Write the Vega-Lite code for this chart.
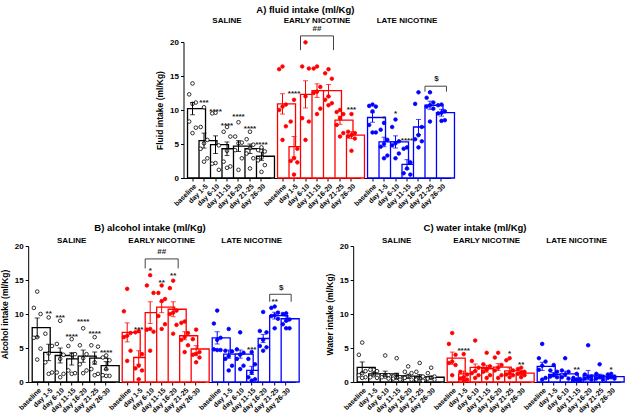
{
"$schema": "https://vega.github.io/schema/vega-lite/v6.json",
"padding": {"left": 0, "right": 2, "top": 4, "bottom": 0},
"config": {
 "font": "Liberation Sans",
 "view": {"stroke": null},
 "axis": {"domainColor": "#000000", "tickColor": "#000000", "labelColor": "#000000", "titleColor": "#000000", "grid": false, "labelFontWeight": "bold", "titleFontWeight": "bold", "domainWidth": 1, "tickSize": 3},
 "axisX": {"labelAngle": -45, "labelFontSize": 7, "labelPadding": 1},
 "axisY": {"labelFontSize": 8, "titleFontSize": 8.5, "values": [0, 4, 8, 12, 16, 20], "titlePadding": 5, "labelPadding": 2},
 "header": {"labelFontWeight": "bold", "labelFontSize": 8, "labelPadding": 1, "labelColor": "#000000"},
 "title": {"fontSize": 9.5, "fontWeight": "bold", "offset": 5, "color": "#000000", "anchor": "middle"}
},
"datasets": {
"fluid": [
{"g":"SALINE","d":"baseline","m":10.2,"s":0.9},
{"g":"SALINE","d":"day 1-5","m":5.5,"s":1.1,"st":"***","sy":11.3},
{"g":"SALINE","d":"day 6-10","m":4.9,"s":1.3,"st":"****","sy":10.0},
{"g":"SALINE","d":"day 11-15","m":4.3,"s":1.0,"st":"****","sy":8.0},
{"g":"SALINE","d":"day 16-20","m":4.7,"s":0.8,"st":"****","sy":9.2},
{"g":"SALINE","d":"day 21-25","m":4.3,"s":0.7,"st":"****","sy":7.5},
{"g":"SALINE","d":"day 26-30","m":3.2,"s":0.6,"st":"****","sy":5.1},
{"g":"EARLY NICOTINE","d":"baseline","m":10.9,"s":1.5},
{"g":"EARLY NICOTINE","d":"day 1-5","m":4.6,"s":1.5,"st":"****","sy":12.7},
{"g":"EARLY NICOTINE","d":"day 6-10","m":12.3,"s":2.0},
{"g":"EARLY NICOTINE","d":"day 11-15","m":12.85,"s":1.0},
{"g":"EARLY NICOTINE","d":"day 16-20","m":12.85,"s":0.9},
{"g":"EARLY NICOTINE","d":"day 21-25","m":8.5,"s":0.6},
{"g":"EARLY NICOTINE","d":"day 26-30","m":6.3,"s":0.5,"st":"***","sy":10.3},
{"g":"LATE NICOTINE","d":"baseline","m":8.9,"s":0.7},
{"g":"LATE NICOTINE","d":"day 1-5","m":5.3,"s":0.7,"st":"*","sy":9.0},
{"g":"LATE NICOTINE","d":"day 6-10","m":5.3,"s":0.9,"st":"*","sy":9.75},
{"g":"LATE NICOTINE","d":"day 11-15","m":2.0,"s":0.7,"st":"****","sy":5.8},
{"g":"LATE NICOTINE","d":"day 16-20","m":7.5,"s":1.1},
{"g":"LATE NICOTINE","d":"day 21-25","m":10.7,"s":0.6},
{"g":"LATE NICOTINE","d":"day 26-30","m":9.6,"s":0.5},
{"g":"EARLY NICOTINE","d1":"day 6-10","d2":"day 16-20","mid":"day 11-15","by":20.9,"bo":18.8,"lab":"##","ly":21.3},
{"g":"LATE NICOTINE","d1":"day 21-25","d2":"day 26-30","mid":"day 26-30","by":13.5,"bo":12.7,"lab":"$","ly":13.9},
{"g":"SALINE","d":"baseline","v":13.9},{"g":"SALINE","d":"baseline","v":12.3},{"g":"SALINE","d":"baseline","v":11.1},{"g":"SALINE","d":"baseline","v":10.9},{"g":"SALINE","d":"baseline","v":8.3},{"g":"SALINE","d":"baseline","v":7.4},{"g":"SALINE","d":"baseline","v":6.6},
{"g":"SALINE","d":"day 1-5","v":10.4},{"g":"SALINE","d":"day 1-5","v":7.5},{"g":"SALINE","d":"day 1-5","v":5.6},{"g":"SALINE","d":"day 1-5","v":5.1},{"g":"SALINE","d":"day 1-5","v":4.3},{"g":"SALINE","d":"day 1-5","v":2.9},{"g":"SALINE","d":"day 1-5","v":2.4},
{"g":"SALINE","d":"day 6-10","v":9.6},{"g":"SALINE","d":"day 6-10","v":9.5},{"g":"SALINE","d":"day 6-10","v":4.8},{"g":"SALINE","d":"day 6-10","v":2.2},{"g":"SALINE","d":"day 6-10","v":2.1},{"g":"SALINE","d":"day 6-10","v":1.2},
{"g":"SALINE","d":"day 11-15","v":7.5},{"g":"SALINE","d":"day 11-15","v":6.8},{"g":"SALINE","d":"day 11-15","v":6.1},{"g":"SALINE","d":"day 11-15","v":4.0},{"g":"SALINE","d":"day 11-15","v":2.4},{"g":"SALINE","d":"day 11-15","v":1.7},{"g":"SALINE","d":"day 11-15","v":1.5},
{"g":"SALINE","d":"day 16-20","v":8.2},{"g":"SALINE","d":"day 16-20","v":6.1},{"g":"SALINE","d":"day 16-20","v":5.2},{"g":"SALINE","d":"day 16-20","v":5.1},{"g":"SALINE","d":"day 16-20","v":4.1},{"g":"SALINE","d":"day 16-20","v":2.9},{"g":"SALINE","d":"day 16-20","v":1.2},
{"g":"SALINE","d":"day 21-25","v":6.8},{"g":"SALINE","d":"day 21-25","v":5.7},{"g":"SALINE","d":"day 21-25","v":4.9},{"g":"SALINE","d":"day 21-25","v":4.4},{"g":"SALINE","d":"day 21-25","v":3.6},{"g":"SALINE","d":"day 21-25","v":2.9},{"g":"SALINE","d":"day 21-25","v":1.4},
{"g":"SALINE","d":"day 26-30","v":4.5},{"g":"SALINE","d":"day 26-30","v":4.1},{"g":"SALINE","d":"day 26-30","v":3.9},{"g":"SALINE","d":"day 26-30","v":3.0},{"g":"SALINE","d":"day 26-30","v":2.6},{"g":"SALINE","d":"day 26-30","v":1.9},{"g":"SALINE","d":"day 26-30","v":0.9},
{"g":"EARLY NICOTINE","d":"baseline","v":16.4},{"g":"EARLY NICOTINE","d":"baseline","v":16.0},{"g":"EARLY NICOTINE","d":"baseline","v":10.8},{"g":"EARLY NICOTINE","d":"baseline","v":10.5},{"g":"EARLY NICOTINE","d":"baseline","v":10.0},{"g":"EARLY NICOTINE","d":"baseline","v":7.6},{"g":"EARLY NICOTINE","d":"baseline","v":5.6},
{"g":"EARLY NICOTINE","d":"day 1-5","v":11.5},{"g":"EARLY NICOTINE","d":"day 1-5","v":8.3},{"g":"EARLY NICOTINE","d":"day 1-5","v":4.3},{"g":"EARLY NICOTINE","d":"day 1-5","v":2.9},{"g":"EARLY NICOTINE","d":"day 1-5","v":2.5},{"g":"EARLY NICOTINE","d":"day 1-5","v":2.3},{"g":"EARLY NICOTINE","d":"day 1-5","v":0.5},
{"g":"EARLY NICOTINE","d":"day 6-10","v":19.95},{"g":"EARLY NICOTINE","d":"day 6-10","v":16.4},{"g":"EARLY NICOTINE","d":"day 6-10","v":16.1},{"g":"EARLY NICOTINE","d":"day 6-10","v":12.0},{"g":"EARLY NICOTINE","d":"day 6-10","v":8.8},{"g":"EARLY NICOTINE","d":"day 6-10","v":8.3},{"g":"EARLY NICOTINE","d":"day 6-10","v":5.6},
{"g":"EARLY NICOTINE","d":"day 11-15","v":16.4},{"g":"EARLY NICOTINE","d":"day 11-15","v":16.1},{"g":"EARLY NICOTINE","d":"day 11-15","v":13.4},{"g":"EARLY NICOTINE","d":"day 11-15","v":12.7},{"g":"EARLY NICOTINE","d":"day 11-15","v":12.5},{"g":"EARLY NICOTINE","d":"day 11-15","v":10.2},{"g":"EARLY NICOTINE","d":"day 11-15","v":9.4},
{"g":"EARLY NICOTINE","d":"day 16-20","v":16.0},{"g":"EARLY NICOTINE","d":"day 16-20","v":15.4},{"g":"EARLY NICOTINE","d":"day 16-20","v":14.6},{"g":"EARLY NICOTINE","d":"day 16-20","v":12.0},{"g":"EARLY NICOTINE","d":"day 16-20","v":11.5},{"g":"EARLY NICOTINE","d":"day 16-20","v":11.0},{"g":"EARLY NICOTINE","d":"day 16-20","v":10.7},
{"g":"EARLY NICOTINE","d":"day 21-25","v":10.0},{"g":"EARLY NICOTINE","d":"day 21-25","v":9.7},{"g":"EARLY NICOTINE","d":"day 21-25","v":9.4},{"g":"EARLY NICOTINE","d":"day 21-25","v":8.8},{"g":"EARLY NICOTINE","d":"day 21-25","v":7.8},{"g":"EARLY NICOTINE","d":"day 21-25","v":6.6},{"g":"EARLY NICOTINE","d":"day 21-25","v":6.1},
{"g":"EARLY NICOTINE","d":"day 26-30","v":9.4},{"g":"EARLY NICOTINE","d":"day 26-30","v":6.8},{"g":"EARLY NICOTINE","d":"day 26-30","v":6.6},{"g":"EARLY NICOTINE","d":"day 26-30","v":6.3},{"g":"EARLY NICOTINE","d":"day 26-30","v":6.1},{"g":"EARLY NICOTINE","d":"day 26-30","v":5.8},{"g":"EARLY NICOTINE","d":"day 26-30","v":4.0},
{"g":"LATE NICOTINE","d":"baseline","v":10.8},{"g":"LATE NICOTINE","d":"baseline","v":10.6},{"g":"LATE NICOTINE","d":"baseline","v":10.5},{"g":"LATE NICOTINE","d":"baseline","v":9.8},{"g":"LATE NICOTINE","d":"baseline","v":7.8},{"g":"LATE NICOTINE","d":"baseline","v":6.7},{"g":"LATE NICOTINE","d":"baseline","v":6.7},
{"g":"LATE NICOTINE","d":"day 1-5","v":8.1},{"g":"LATE NICOTINE","d":"day 1-5","v":7.1},{"g":"LATE NICOTINE","d":"day 1-5","v":5.6},{"g":"LATE NICOTINE","d":"day 1-5","v":5.0},{"g":"LATE NICOTINE","d":"day 1-5","v":4.6},{"g":"LATE NICOTINE","d":"day 1-5","v":3.3},{"g":"LATE NICOTINE","d":"day 1-5","v":2.9},
{"g":"LATE NICOTINE","d":"day 6-10","v":8.6},{"g":"LATE NICOTINE","d":"day 6-10","v":7.5},{"g":"LATE NICOTINE","d":"day 6-10","v":5.4},{"g":"LATE NICOTINE","d":"day 6-10","v":5.1},{"g":"LATE NICOTINE","d":"day 6-10","v":4.8},{"g":"LATE NICOTINE","d":"day 6-10","v":3.6},{"g":"LATE NICOTINE","d":"day 6-10","v":2.9},
{"g":"LATE NICOTINE","d":"day 11-15","v":4.5},{"g":"LATE NICOTINE","d":"day 11-15","v":4.3},{"g":"LATE NICOTINE","d":"day 11-15","v":2.3},{"g":"LATE NICOTINE","d":"day 11-15","v":1.4},{"g":"LATE NICOTINE","d":"day 11-15","v":0.7},{"g":"LATE NICOTINE","d":"day 11-15","v":0.5},
{"g":"LATE NICOTINE","d":"day 16-20","v":12.6},{"g":"LATE NICOTINE","d":"day 16-20","v":10.9},{"g":"LATE NICOTINE","d":"day 16-20","v":7.5},{"g":"LATE NICOTINE","d":"day 16-20","v":6.3},{"g":"LATE NICOTINE","d":"day 16-20","v":5.7},{"g":"LATE NICOTINE","d":"day 16-20","v":5.4},{"g":"LATE NICOTINE","d":"day 16-20","v":4.5},
{"g":"LATE NICOTINE","d":"day 21-25","v":12.6},{"g":"LATE NICOTINE","d":"day 21-25","v":11.8},{"g":"LATE NICOTINE","d":"day 21-25","v":11.1},{"g":"LATE NICOTINE","d":"day 21-25","v":10.7},{"g":"LATE NICOTINE","d":"day 21-25","v":10.5},{"g":"LATE NICOTINE","d":"day 21-25","v":10.2},{"g":"LATE NICOTINE","d":"day 21-25","v":8.3},
{"g":"LATE NICOTINE","d":"day 26-30","v":10.8},{"g":"LATE NICOTINE","d":"day 26-30","v":10.7},{"g":"LATE NICOTINE","d":"day 26-30","v":9.8},{"g":"LATE NICOTINE","d":"day 26-30","v":9.6},{"g":"LATE NICOTINE","d":"day 26-30","v":9.5},{"g":"LATE NICOTINE","d":"day 26-30","v":8.5},{"g":"LATE NICOTINE","d":"day 26-30","v":8.4}
],
"alcohol": [
{"g":"SALINE","d":"baseline","m":8.0,"s":1.4},
{"g":"SALINE","d":"day 1-5","m":4.35,"s":1.2,"st":"**","sy":10.3},
{"g":"SALINE","d":"day 6-10","m":3.9,"s":1.1,"st":"***","sy":9.7},
{"g":"SALINE","d":"day 11-15","m":3.4,"s":0.9,"st":"****","sy":6.9},
{"g":"SALINE","d":"day 16-20","m":3.8,"s":0.9,"st":"****","sy":9.1},
{"g":"SALINE","d":"day 21-25","m":3.5,"s":0.9,"st":"****","sy":7.3},
{"g":"SALINE","d":"day 26-30","m":2.4,"s":0.6,"st":"****","sy":4.6},
{"g":"EARLY NICOTINE","d":"baseline","m":7.3,"s":1.4},
{"g":"EARLY NICOTINE","d":"day 1-5","m":3.6,"s":1.0,"st":"***","sy":8.0},
{"g":"EARLY NICOTINE","d":"day 6-10","m":10.2,"s":1.6,"st":"*","sy":16.6},
{"g":"EARLY NICOTINE","d":"day 11-15","m":11.0,"s":0.8,"st":"**","sy":14.9},
{"g":"EARLY NICOTINE","d":"day 16-20","m":10.7,"s":1.1,"st":"**","sy":15.9},
{"g":"EARLY NICOTINE","d":"day 21-25","m":6.8,"s":0.6},
{"g":"EARLY NICOTINE","d":"day 26-30","m":4.85,"s":0.5},
{"g":"LATE NICOTINE","d":"baseline","m":6.5,"s":0.9},
{"g":"LATE NICOTINE","d":"day 1-5","m":4.1,"s":0.6},
{"g":"LATE NICOTINE","d":"day 6-10","m":4.1,"s":0.6},
{"g":"LATE NICOTINE","d":"day 11-15","m":1.7,"s":0.6,"st":"***","sy":5.0},
{"g":"LATE NICOTINE","d":"day 16-20","m":6.4,"s":0.6},
{"g":"LATE NICOTINE","d":"day 21-25","m":9.75,"s":0.5,"st":"**","sy":12.0},
{"g":"LATE NICOTINE","d":"day 26-30","m":9.3,"s":0.4},
{"g":"EARLY NICOTINE","d1":"day 6-10","d2":"day 16-20","mid":"day 11-15","by":18.1,"bo":16.7,"lab":"##","ly":18.5},
{"g":"LATE NICOTINE","d1":"day 21-25","d2":"day 26-30","mid":"day 26-30","by":12.9,"bo":11.8,"lab":"$","ly":13.3},
{"g":"SALINE","d":"baseline","v":13.3},{"g":"SALINE","d":"baseline","v":10.9},{"g":"SALINE","d":"baseline","v":10.0},{"g":"SALINE","d":"baseline","v":6.6},{"g":"SALINE","d":"baseline","v":6.5},{"g":"SALINE","d":"baseline","v":4.9},{"g":"SALINE","d":"baseline","v":3.3},
{"g":"SALINE","d":"day 1-5","v":9.5},{"g":"SALINE","d":"day 1-5","v":7.1},{"g":"SALINE","d":"day 1-5","v":5.3},{"g":"SALINE","d":"day 1-5","v":4.2},{"g":"SALINE","d":"day 1-5","v":2.9},{"g":"SALINE","d":"day 1-5","v":1.4},{"g":"SALINE","d":"day 1-5","v":1.2},
{"g":"SALINE","d":"day 6-10","v":9.0},{"g":"SALINE","d":"day 6-10","v":5.6},{"g":"SALINE","d":"day 6-10","v":4.0},{"g":"SALINE","d":"day 6-10","v":3.4},{"g":"SALINE","d":"day 6-10","v":1.4},{"g":"SALINE","d":"day 6-10","v":1.2},{"g":"SALINE","d":"day 6-10","v":0.7},
{"g":"SALINE","d":"day 11-15","v":6.3},{"g":"SALINE","d":"day 11-15","v":5.3},{"g":"SALINE","d":"day 11-15","v":4.1},{"g":"SALINE","d":"day 11-15","v":4.0},{"g":"SALINE","d":"day 11-15","v":1.7},{"g":"SALINE","d":"day 11-15","v":1.3},{"g":"SALINE","d":"day 11-15","v":1.2},
{"g":"SALINE","d":"day 16-20","v":7.9},{"g":"SALINE","d":"day 16-20","v":5.4},{"g":"SALINE","d":"day 16-20","v":4.1},{"g":"SALINE","d":"day 16-20","v":3.5},{"g":"SALINE","d":"day 16-20","v":2.6},{"g":"SALINE","d":"day 16-20","v":1.7},{"g":"SALINE","d":"day 16-20","v":1.3},
{"g":"SALINE","d":"day 21-25","v":6.6},{"g":"SALINE","d":"day 21-25","v":5.4},{"g":"SALINE","d":"day 21-25","v":5.2},{"g":"SALINE","d":"day 21-25","v":2.9},{"g":"SALINE","d":"day 21-25","v":1.9},{"g":"SALINE","d":"day 21-25","v":1.2},{"g":"SALINE","d":"day 21-25","v":1.0},
{"g":"SALINE","d":"day 26-30","v":3.9},{"g":"SALINE","d":"day 26-30","v":3.6},{"g":"SALINE","d":"day 26-30","v":3.2},{"g":"SALINE","d":"day 26-30","v":1.9},{"g":"SALINE","d":"day 26-30","v":1.0},{"g":"SALINE","d":"day 26-30","v":0.9},{"g":"SALINE","d":"day 26-30","v":0.9},
{"g":"EARLY NICOTINE","d":"baseline","v":13.7},{"g":"EARLY NICOTINE","d":"baseline","v":10.4},{"g":"EARLY NICOTINE","d":"baseline","v":7.2},{"g":"EARLY NICOTINE","d":"baseline","v":6.8},{"g":"EARLY NICOTINE","d":"baseline","v":6.6},{"g":"EARLY NICOTINE","d":"baseline","v":4.6},{"g":"EARLY NICOTINE","d":"baseline","v":3.1},
{"g":"EARLY NICOTINE","d":"day 1-5","v":7.5},{"g":"EARLY NICOTINE","d":"day 1-5","v":7.3},{"g":"EARLY NICOTINE","d":"day 1-5","v":4.1},{"g":"EARLY NICOTINE","d":"day 1-5","v":2.4},{"g":"EARLY NICOTINE","d":"day 1-5","v":2.0},{"g":"EARLY NICOTINE","d":"day 1-5","v":1.7},{"g":"EARLY NICOTINE","d":"day 1-5","v":0.4},
{"g":"EARLY NICOTINE","d":"day 6-10","v":15.7},{"g":"EARLY NICOTINE","d":"day 6-10","v":14.2},{"g":"EARLY NICOTINE","d":"day 6-10","v":13.1},{"g":"EARLY NICOTINE","d":"day 6-10","v":7.8},{"g":"EARLY NICOTINE","d":"day 6-10","v":7.7},{"g":"EARLY NICOTINE","d":"day 6-10","v":7.4},{"g":"EARLY NICOTINE","d":"day 6-10","v":4.6},
{"g":"EARLY NICOTINE","d":"day 11-15","v":14.2},{"g":"EARLY NICOTINE","d":"day 11-15","v":13.1},{"g":"EARLY NICOTINE","d":"day 11-15","v":12.2},{"g":"EARLY NICOTINE","d":"day 11-15","v":11.9},{"g":"EARLY NICOTINE","d":"day 11-15","v":9.7},{"g":"EARLY NICOTINE","d":"day 11-15","v":8.5},{"g":"EARLY NICOTINE","d":"day 11-15","v":7.8},
{"g":"EARLY NICOTINE","d":"day 16-20","v":14.9},{"g":"EARLY NICOTINE","d":"day 16-20","v":13.8},{"g":"EARLY NICOTINE","d":"day 16-20","v":10.5},{"g":"EARLY NICOTINE","d":"day 16-20","v":10.2},{"g":"EARLY NICOTINE","d":"day 16-20","v":10.0},{"g":"EARLY NICOTINE","d":"day 16-20","v":8.4},{"g":"EARLY NICOTINE","d":"day 16-20","v":7.1},
{"g":"EARLY NICOTINE","d":"day 21-25","v":8.9},{"g":"EARLY NICOTINE","d":"day 21-25","v":8.7},{"g":"EARLY NICOTINE","d":"day 21-25","v":7.2},{"g":"EARLY NICOTINE","d":"day 21-25","v":6.6},{"g":"EARLY NICOTINE","d":"day 21-25","v":6.2},{"g":"EARLY NICOTINE","d":"day 21-25","v":5.4},{"g":"EARLY NICOTINE","d":"day 21-25","v":4.4},
{"g":"EARLY NICOTINE","d":"day 26-30","v":7.7},{"g":"EARLY NICOTINE","d":"day 26-30","v":6.3},{"g":"EARLY NICOTINE","d":"day 26-30","v":4.4},{"g":"EARLY NICOTINE","d":"day 26-30","v":4.1},{"g":"EARLY NICOTINE","d":"day 26-30","v":4.0},{"g":"EARLY NICOTINE","d":"day 26-30","v":3.6},{"g":"EARLY NICOTINE","d":"day 26-30","v":2.9},
{"g":"LATE NICOTINE","d":"baseline","v":10.5},{"g":"LATE NICOTINE","d":"baseline","v":8.6},{"g":"LATE NICOTINE","d":"baseline","v":6.5},{"g":"LATE NICOTINE","d":"baseline","v":6.2},{"g":"LATE NICOTINE","d":"baseline","v":4.8},{"g":"LATE NICOTINE","d":"baseline","v":4.7},{"g":"LATE NICOTINE","d":"baseline","v":4.7},
{"g":"LATE NICOTINE","d":"day 1-5","v":7.8},{"g":"LATE NICOTINE","d":"day 1-5","v":4.6},{"g":"LATE NICOTINE","d":"day 1-5","v":4.5},{"g":"LATE NICOTINE","d":"day 1-5","v":3.8},{"g":"LATE NICOTINE","d":"day 1-5","v":3.4},{"g":"LATE NICOTINE","d":"day 1-5","v":2.4},{"g":"LATE NICOTINE","d":"day 1-5","v":1.7},
{"g":"LATE NICOTINE","d":"day 6-10","v":7.3},{"g":"LATE NICOTINE","d":"day 6-10","v":4.8},{"g":"LATE NICOTINE","d":"day 6-10","v":4.3},{"g":"LATE NICOTINE","d":"day 6-10","v":4.0},{"g":"LATE NICOTINE","d":"day 6-10","v":3.4},{"g":"LATE NICOTINE","d":"day 6-10","v":2.4},{"g":"LATE NICOTINE","d":"day 6-10","v":1.9},
{"g":"LATE NICOTINE","d":"day 11-15","v":4.4},{"g":"LATE NICOTINE","d":"day 11-15","v":3.4},{"g":"LATE NICOTINE","d":"day 11-15","v":2.6},{"g":"LATE NICOTINE","d":"day 11-15","v":1.4},{"g":"LATE NICOTINE","d":"day 11-15","v":0.7},{"g":"LATE NICOTINE","d":"day 11-15","v":0.4},{"g":"LATE NICOTINE","d":"day 11-15","v":0.2},
{"g":"LATE NICOTINE","d":"day 16-20","v":10.3},{"g":"LATE NICOTINE","d":"day 16-20","v":7.5},{"g":"LATE NICOTINE","d":"day 16-20","v":7.3},{"g":"LATE NICOTINE","d":"day 16-20","v":6.2},{"g":"LATE NICOTINE","d":"day 16-20","v":5.3},{"g":"LATE NICOTINE","d":"day 16-20","v":5.1},{"g":"LATE NICOTINE","d":"day 16-20","v":4.6},
{"g":"LATE NICOTINE","d":"day 21-25","v":11.1},{"g":"LATE NICOTINE","d":"day 21-25","v":10.9},{"g":"LATE NICOTINE","d":"day 21-25","v":10.2},{"g":"LATE NICOTINE","d":"day 21-25","v":9.8},{"g":"LATE NICOTINE","d":"day 21-25","v":9.7},{"g":"LATE NICOTINE","d":"day 21-25","v":9.3},{"g":"LATE NICOTINE","d":"day 21-25","v":7.9},
{"g":"LATE NICOTINE","d":"day 26-30","v":10.1},{"g":"LATE NICOTINE","d":"day 26-30","v":10.0},{"g":"LATE NICOTINE","d":"day 26-30","v":9.2},{"g":"LATE NICOTINE","d":"day 26-30","v":9.0},{"g":"LATE NICOTINE","d":"day 26-30","v":8.5},{"g":"LATE NICOTINE","d":"day 26-30","v":7.9},{"g":"LATE NICOTINE","d":"day 26-30","v":7.9}
],
"water": [
{"g":"SALINE","d":"baseline","m":2.15,"s":0.8},
{"g":"SALINE","d":"day 1-5","m":1.2,"s":0.2},
{"g":"SALINE","d":"day 6-10","m":1.2,"s":0.4},
{"g":"SALINE","d":"day 11-15","m":0.9,"s":0.4},
{"g":"SALINE","d":"day 16-20","m":0.85,"s":0.3},
{"g":"SALINE","d":"day 21-25","m":0.75,"s":0.35},
{"g":"SALINE","d":"day 26-30","m":0.7,"s":0.2},
{"g":"EARLY NICOTINE","d":"baseline","m":3.5,"s":0.9},
{"g":"EARLY NICOTINE","d":"day 1-5","m":1.2,"s":0.4,"st":"****","sy":4.85},
{"g":"EARLY NICOTINE","d":"day 6-10","m":2.15,"s":0.5},
{"g":"EARLY NICOTINE","d":"day 11-15","m":1.95,"s":0.5},
{"g":"EARLY NICOTINE","d":"day 16-20","m":2.2,"s":0.5},
{"g":"EARLY NICOTINE","d":"day 21-25","m":1.65,"s":0.4,"st":"*","sy":4.4},
{"g":"EARLY NICOTINE","d":"day 26-30","m":1.3,"s":0.3,"st":"**","sy":2.8},
{"g":"LATE NICOTINE","d":"baseline","m":2.3,"s":0.6},
{"g":"LATE NICOTINE","d":"day 1-5","m":1.1,"s":0.3},
{"g":"LATE NICOTINE","d":"day 6-10","m":1.2,"s":0.4},
{"g":"LATE NICOTINE","d":"day 11-15","m":0.35,"s":0.2,"st":"**","sy":2.0},
{"g":"LATE NICOTINE","d":"day 16-20","m":1.0,"s":0.7},
{"g":"LATE NICOTINE","d":"day 21-25","m":0.85,"s":0.3},
{"g":"LATE NICOTINE","d":"day 26-30","m":0.8,"s":0.2,"st":"*","sy":2.05},
{"g":"SALINE","d":"baseline","v":5.8},{"g":"SALINE","d":"baseline","v":4.0},{"g":"SALINE","d":"baseline","v":1.6},{"g":"SALINE","d":"baseline","v":1.3},{"g":"SALINE","d":"baseline","v":1.0},{"g":"SALINE","d":"baseline","v":0.7},{"g":"SALINE","d":"baseline","v":0.6},
{"g":"SALINE","d":"day 1-5","v":1.8},{"g":"SALINE","d":"day 1-5","v":1.8},{"g":"SALINE","d":"day 1-5","v":1.6},{"g":"SALINE","d":"day 1-5","v":1.0},{"g":"SALINE","d":"day 1-5","v":0.7},{"g":"SALINE","d":"day 1-5","v":0.6},
{"g":"SALINE","d":"day 6-10","v":3.9},{"g":"SALINE","d":"day 6-10","v":1.0},{"g":"SALINE","d":"day 6-10","v":1.0},{"g":"SALINE","d":"day 6-10","v":0.8},{"g":"SALINE","d":"day 6-10","v":0.7},{"g":"SALINE","d":"day 6-10","v":0.5},
{"g":"SALINE","d":"day 11-15","v":3.5},{"g":"SALINE","d":"day 11-15","v":0.8},{"g":"SALINE","d":"day 11-15","v":0.7},{"g":"SALINE","d":"day 11-15","v":0.6},{"g":"SALINE","d":"day 11-15","v":0.5},{"g":"SALINE","d":"day 11-15","v":0.35},
{"g":"SALINE","d":"day 16-20","v":2.3},{"g":"SALINE","d":"day 16-20","v":1.5},{"g":"SALINE","d":"day 16-20","v":1.3},{"g":"SALINE","d":"day 16-20","v":0.8},{"g":"SALINE","d":"day 16-20","v":0.6},{"g":"SALINE","d":"day 16-20","v":0.35},
{"g":"SALINE","d":"day 21-25","v":2.8},{"g":"SALINE","d":"day 21-25","v":1.5},{"g":"SALINE","d":"day 21-25","v":0.8},{"g":"SALINE","d":"day 21-25","v":0.5},{"g":"SALINE","d":"day 21-25","v":0.35},{"g":"SALINE","d":"day 21-25","v":0.2},
{"g":"SALINE","d":"day 26-30","v":2.1},{"g":"SALINE","d":"day 26-30","v":1.3},{"g":"SALINE","d":"day 26-30","v":0.8},{"g":"SALINE","d":"day 26-30","v":0.6},{"g":"SALINE","d":"day 26-30","v":0.5},{"g":"SALINE","d":"day 26-30","v":0.35},
{"g":"EARLY NICOTINE","d":"baseline","v":7.2},{"g":"EARLY NICOTINE","d":"baseline","v":5.6},{"g":"EARLY NICOTINE","d":"baseline","v":4.0},{"g":"EARLY NICOTINE","d":"baseline","v":3.0},{"g":"EARLY NICOTINE","d":"baseline","v":2.8},{"g":"EARLY NICOTINE","d":"baseline","v":2.5},{"g":"EARLY NICOTINE","d":"baseline","v":1.0},
{"g":"EARLY NICOTINE","d":"day 1-5","v":4.1},{"g":"EARLY NICOTINE","d":"day 1-5","v":1.5},{"g":"EARLY NICOTINE","d":"day 1-5","v":1.1},{"g":"EARLY NICOTINE","d":"day 1-5","v":0.7},{"g":"EARLY NICOTINE","d":"day 1-5","v":0.5},{"g":"EARLY NICOTINE","d":"day 1-5","v":0.35},{"g":"EARLY NICOTINE","d":"day 1-5","v":0.2},
{"g":"EARLY NICOTINE","d":"day 6-10","v":6.1},{"g":"EARLY NICOTINE","d":"day 6-10","v":3.1},{"g":"EARLY NICOTINE","d":"day 6-10","v":2.1},{"g":"EARLY NICOTINE","d":"day 6-10","v":1.6},{"g":"EARLY NICOTINE","d":"day 6-10","v":1.3},{"g":"EARLY NICOTINE","d":"day 6-10","v":1.0},{"g":"EARLY NICOTINE","d":"day 6-10","v":0.6},
{"g":"EARLY NICOTINE","d":"day 11-15","v":4.3},{"g":"EARLY NICOTINE","d":"day 11-15","v":2.6},{"g":"EARLY NICOTINE","d":"day 11-15","v":2.3},{"g":"EARLY NICOTINE","d":"day 11-15","v":1.8},{"g":"EARLY NICOTINE","d":"day 11-15","v":1.5},{"g":"EARLY NICOTINE","d":"day 11-15","v":1.0},{"g":"EARLY NICOTINE","d":"day 11-15","v":0.6},
{"g":"EARLY NICOTINE","d":"day 16-20","v":4.3},{"g":"EARLY NICOTINE","d":"day 16-20","v":3.6},{"g":"EARLY NICOTINE","d":"day 16-20","v":2.5},{"g":"EARLY NICOTINE","d":"day 16-20","v":2.1},{"g":"EARLY NICOTINE","d":"day 16-20","v":1.7},{"g":"EARLY NICOTINE","d":"day 16-20","v":1.0},{"g":"EARLY NICOTINE","d":"day 16-20","v":0.6},
{"g":"EARLY NICOTINE","d":"day 21-25","v":3.5},{"g":"EARLY NICOTINE","d":"day 21-25","v":3.2},{"g":"EARLY NICOTINE","d":"day 21-25","v":1.7},{"g":"EARLY NICOTINE","d":"day 21-25","v":1.3},{"g":"EARLY NICOTINE","d":"day 21-25","v":1.1},{"g":"EARLY NICOTINE","d":"day 21-25","v":1.0},{"g":"EARLY NICOTINE","d":"day 21-25","v":0.7},
{"g":"EARLY NICOTINE","d":"day 26-30","v":2.1},{"g":"EARLY NICOTINE","d":"day 26-30","v":1.9},{"g":"EARLY NICOTINE","d":"day 26-30","v":1.5},{"g":"EARLY NICOTINE","d":"day 26-30","v":1.3},{"g":"EARLY NICOTINE","d":"day 26-30","v":1.2},{"g":"EARLY NICOTINE","d":"day 26-30","v":1.0},{"g":"EARLY NICOTINE","d":"day 26-30","v":0.7},
{"g":"LATE NICOTINE","d":"baseline","v":5.6},{"g":"LATE NICOTINE","d":"baseline","v":3.5},{"g":"LATE NICOTINE","d":"baseline","v":3.0},{"g":"LATE NICOTINE","d":"baseline","v":2.4},{"g":"LATE NICOTINE","d":"baseline","v":1.8},{"g":"LATE NICOTINE","d":"baseline","v":0.6},{"g":"LATE NICOTINE","d":"baseline","v":0.35},
{"g":"LATE NICOTINE","d":"day 1-5","v":2.5},{"g":"LATE NICOTINE","d":"day 1-5","v":1.7},{"g":"LATE NICOTINE","d":"day 1-5","v":1.5},{"g":"LATE NICOTINE","d":"day 1-5","v":1.0},{"g":"LATE NICOTINE","d":"day 1-5","v":0.8},{"g":"LATE NICOTINE","d":"day 1-5","v":0.7},
{"g":"LATE NICOTINE","d":"day 6-10","v":3.5},{"g":"LATE NICOTINE","d":"day 6-10","v":1.7},{"g":"LATE NICOTINE","d":"day 6-10","v":1.5},{"g":"LATE NICOTINE","d":"day 6-10","v":1.1},{"g":"LATE NICOTINE","d":"day 6-10","v":0.7},{"g":"LATE NICOTINE","d":"day 6-10","v":0.5},
{"g":"LATE NICOTINE","d":"day 11-15","v":1.2},{"g":"LATE NICOTINE","d":"day 11-15","v":0.6},{"g":"LATE NICOTINE","d":"day 11-15","v":0.45},{"g":"LATE NICOTINE","d":"day 11-15","v":0.35},{"g":"LATE NICOTINE","d":"day 11-15","v":0.25},{"g":"LATE NICOTINE","d":"day 11-15","v":0.2},
{"g":"LATE NICOTINE","d":"day 16-20","v":5.4},{"g":"LATE NICOTINE","d":"day 16-20","v":1.1},{"g":"LATE NICOTINE","d":"day 16-20","v":0.8},{"g":"LATE NICOTINE","d":"day 16-20","v":0.7},{"g":"LATE NICOTINE","d":"day 16-20","v":0.5},{"g":"LATE NICOTINE","d":"day 16-20","v":0.35},
{"g":"LATE NICOTINE","d":"day 21-25","v":2.6},{"g":"LATE NICOTINE","d":"day 21-25","v":1.2},{"g":"LATE NICOTINE","d":"day 21-25","v":0.8},{"g":"LATE NICOTINE","d":"day 21-25","v":0.7},{"g":"LATE NICOTINE","d":"day 21-25","v":0.5},{"g":"LATE NICOTINE","d":"day 21-25","v":0.35},
{"g":"LATE NICOTINE","d":"day 26-30","v":1.2},{"g":"LATE NICOTINE","d":"day 26-30","v":1.1},{"g":"LATE NICOTINE","d":"day 26-30","v":0.8},{"g":"LATE NICOTINE","d":"day 26-30","v":0.7},{"g":"LATE NICOTINE","d":"day 26-30","v":0.6},{"g":"LATE NICOTINE","d":"day 26-30","v":0.5}
]
},
"center": true,
"spacing": 12,
"vconcat": [
{
 "spacing": 0,
 "hconcat": [
 {
 "data": {"name": "fluid"},
 "title": {"text": "A) fluid intake (ml/Kg)", "offset": 3},
 "bounds": "flush",
 "facet": {"column": {"field": "g", "type": "nominal", "sort": ["SALINE", "EARLY NICOTINE", "LATE NICOTINE"], "title": null, "header": {"labelPadding": 17}}},
 "spacing": 3,
 "spec": {
  "width": 87, "height": 136,
  "encoding": {"x": {"field": "d", "type": "nominal", "title": null, "scale": {"domain": ["baseline", "day 1-5", "day 6-10", "day 11-15", "day 16-20", "day 21-25", "day 26-30"], "paddingInner": 0.13, "paddingOuter": 0.35}}},
  "layer": [
   {"transform": [{"filter": "isValid(datum.m)"}], "mark": {"type": "bar", "fill": "#ffffff", "strokeWidth": 1.3},
    "encoding": {"y": {"field": "m", "type": "quantitative", "scale": {"domain": [0, 20], "nice": false}, "title": "Fluid intake (ml/Kg)"},
     "stroke": {"field": "g", "type": "nominal", "scale": {"domain": ["SALINE", "EARLY NICOTINE", "LATE NICOTINE"], "range": ["#000000", "#ff0000", "#0000ff"]}, "legend": null}}},
   {"transform": [{"filter": "isValid(datum.v)"}, {"window": [{"op": "row_number", "as": "r"}], "groupby": ["g", "d"], "sort": [{"field": "v", "order": "descending"}]}, {"calculate": "datum.r % 3", "as": "j"}],
    "mark": {"type": "point", "shape": "circle", "filled": true, "size": 13, "strokeWidth": 0.8, "opacity": 1},
    "encoding": {"xOffset": {"field": "j", "type": "ordinal", "scale": {"domain": [2, 1, 0]}},
     "y": {"field": "v", "type": "quantitative", "title": "Fluid intake (ml/Kg)"},
     "fill": {"field": "g", "type": "nominal", "scale": {"domain": ["SALINE", "EARLY NICOTINE", "LATE NICOTINE"], "range": ["#ffffff", "#ff0000", "#0000ff"]}, "legend": null},
     "stroke": {"field": "g", "type": "nominal", "legend": null}}},
   {"transform": [{"filter": "isValid(datum.m)"}], "mark": {"type": "errorbar", "ticks": {"size": 5}, "thickness": 1},
    "encoding": {"y": {"field": "m", "type": "quantitative", "title": "Fluid intake (ml/Kg)"}, "yError": {"field": "s"},
     "color": {"field": "g", "type": "nominal", "scale": {"domain": ["SALINE", "EARLY NICOTINE", "LATE NICOTINE"], "range": ["#000000", "#ff0000", "#0000ff"]}, "legend": null}}},
   {"transform": [{"filter": "datum.st"}], "mark": {"type": "text", "fontSize": 8, "fontWeight": "bold", "baseline": "middle", "dy": 2, "color": "#222222"},
    "encoding": {"y": {"field": "sy", "type": "quantitative", "title": "Fluid intake (ml/Kg)"}, "text": {"field": "st"}}},
   {"transform": [{"filter": "isValid(datum.by)"}], "mark": {"type": "rule", "color": "#444444", "strokeWidth": 1},
    "encoding": {"x": {"field": "d1", "type": "nominal", "bandPosition": 0, "title": null}, "x2": {"field": "d2", "bandPosition": 1}, "y": {"field": "by", "type": "quantitative", "title": "Fluid intake (ml/Kg)"}}},
   {"transform": [{"filter": "isValid(datum.by)"}], "mark": {"type": "rule", "color": "#444444", "strokeWidth": 1},
    "encoding": {"x": {"field": "d1", "type": "nominal", "bandPosition": 0, "title": null}, "y": {"field": "by", "type": "quantitative", "title": "Fluid intake (ml/Kg)"}, "y2": {"field": "bo"}}},
   {"transform": [{"filter": "isValid(datum.by)"}], "mark": {"type": "rule", "color": "#444444", "strokeWidth": 1},
    "encoding": {"x": {"field": "d2", "type": "nominal", "bandPosition": 1, "title": null}, "y": {"field": "by", "type": "quantitative", "title": "Fluid intake (ml/Kg)"}, "y2": {"field": "bo"}}},
   {"transform": [{"filter": "datum.lab == '##'"}], "mark": {"type": "text", "fontSize": 8, "fontWeight": "bold", "baseline": "bottom", "color": "#222222"},
    "encoding": {"x": {"field": "mid", "type": "nominal", "title": null}, "y": {"field": "ly", "type": "quantitative", "title": "Fluid intake (ml/Kg)"}, "text": {"field": "lab"}}},
   {"transform": [{"filter": "datum.lab == '$'"}], "mark": {"type": "text", "fontSize": 8, "fontWeight": "bold", "baseline": "bottom", "color": "#222222"},
    "encoding": {"x": {"field": "d2", "type": "nominal", "bandPosition": 0, "title": null}, "y": {"field": "ly", "type": "quantitative", "title": "Fluid intake (ml/Kg)"}, "text": {"field": "lab"}}}
  ]
 }
 },
 {"data": {"values": [{}]}, "mark": {"type": "point", "opacity": 0}, "encoding": {}, "width": 14, "height": 10}
 ]
},
{
 "spacing": 25,
 "hconcat": [
 {
  "data": {"name": "alcohol"},
  "title": "B) alcohol intake (ml/Kg)",
  "bounds": "flush",
  "facet": {"column": {"field": "g", "type": "nominal", "sort": ["SALINE", "EARLY NICOTINE", "LATE NICOTINE"], "title": null}},
  "spacing": 3,
  "spec": {
   "width": 87, "height": 136,
   "encoding": {"x": {"field": "d", "type": "nominal", "title": null, "scale": {"domain": ["baseline", "day 1-5", "day 6-10", "day 11-15", "day 16-20", "day 21-25", "day 26-30"], "paddingInner": 0.13, "paddingOuter": 0.35}}},
   "layer": [
    {"transform": [{"filter": "isValid(datum.m)"}], "mark": {"type": "bar", "fill": "#ffffff", "strokeWidth": 1.3},
     "encoding": {"y": {"field": "m", "type": "quantitative", "scale": {"domain": [0, 20], "nice": false}, "title": "Alcohol intake (ml/Kg)"},
      "stroke": {"field": "g", "type": "nominal", "scale": {"domain": ["SALINE", "EARLY NICOTINE", "LATE NICOTINE"], "range": ["#000000", "#ff0000", "#0000ff"]}, "legend": null}}},
    {"transform": [{"filter": "isValid(datum.v)"}, {"window": [{"op": "row_number", "as": "r"}], "groupby": ["g", "d"], "sort": [{"field": "v", "order": "descending"}]}, {"calculate": "datum.r % 3", "as": "j"}],
     "mark": {"type": "point", "shape": "circle", "filled": true, "size": 13, "strokeWidth": 0.8, "opacity": 1},
     "encoding": {"xOffset": {"field": "j", "type": "ordinal", "scale": {"domain": [2, 1, 0]}},
      "y": {"field": "v", "type": "quantitative", "title": "Alcohol intake (ml/Kg)"},
      "fill": {"field": "g", "type": "nominal", "scale": {"domain": ["SALINE", "EARLY NICOTINE", "LATE NICOTINE"], "range": ["#ffffff", "#ff0000", "#0000ff"]}, "legend": null},
      "stroke": {"field": "g", "type": "nominal", "legend": null}}},
    {"transform": [{"filter": "isValid(datum.m)"}], "mark": {"type": "errorbar", "ticks": {"size": 5}, "thickness": 1},
     "encoding": {"y": {"field": "m", "type": "quantitative", "title": "Alcohol intake (ml/Kg)"}, "yError": {"field": "s"},
      "color": {"field": "g", "type": "nominal", "scale": {"domain": ["SALINE", "EARLY NICOTINE", "LATE NICOTINE"], "range": ["#000000", "#ff0000", "#0000ff"]}, "legend": null}}},
    {"transform": [{"filter": "datum.st"}], "mark": {"type": "text", "fontSize": 8, "fontWeight": "bold", "baseline": "middle", "dy": 2, "color": "#222222"},
     "encoding": {"y": {"field": "sy", "type": "quantitative", "title": "Alcohol intake (ml/Kg)"}, "text": {"field": "st"}}},
    {"transform": [{"filter": "isValid(datum.by)"}], "mark": {"type": "rule", "color": "#444444", "strokeWidth": 1},
     "encoding": {"x": {"field": "d1", "type": "nominal", "bandPosition": 0, "title": null}, "x2": {"field": "d2", "bandPosition": 1}, "y": {"field": "by", "type": "quantitative", "title": "Alcohol intake (ml/Kg)"}}},
    {"transform": [{"filter": "isValid(datum.by)"}], "mark": {"type": "rule", "color": "#444444", "strokeWidth": 1},
     "encoding": {"x": {"field": "d1", "type": "nominal", "bandPosition": 0, "title": null}, "y": {"field": "by", "type": "quantitative", "title": "Alcohol intake (ml/Kg)"}, "y2": {"field": "bo"}}},
    {"transform": [{"filter": "isValid(datum.by)"}], "mark": {"type": "rule", "color": "#444444", "strokeWidth": 1},
     "encoding": {"x": {"field": "d2", "type": "nominal", "bandPosition": 1, "title": null}, "y": {"field": "by", "type": "quantitative", "title": "Alcohol intake (ml/Kg)"}, "y2": {"field": "bo"}}},
    {"transform": [{"filter": "datum.lab == '##'"}], "mark": {"type": "text", "fontSize": 8, "fontWeight": "bold", "baseline": "bottom", "color": "#222222"},
     "encoding": {"x": {"field": "mid", "type": "nominal", "title": null}, "y": {"field": "ly", "type": "quantitative", "title": "Alcohol intake (ml/Kg)"}, "text": {"field": "lab"}}},
    {"transform": [{"filter": "datum.lab == '$'"}], "mark": {"type": "text", "fontSize": 8, "fontWeight": "bold", "baseline": "bottom", "color": "#222222"},
     "encoding": {"x": {"field": "d2", "type": "nominal", "bandPosition": 0, "title": null}, "y": {"field": "ly", "type": "quantitative", "title": "Alcohol intake (ml/Kg)"}, "text": {"field": "lab"}}}
   ]
  }
 },
 {
  "data": {"name": "water"},
  "title": "C) water intake (ml/Kg)",
  "bounds": "flush",
  "facet": {"column": {"field": "g", "type": "nominal", "sort": ["SALINE", "EARLY NICOTINE", "LATE NICOTINE"], "title": null}},
  "spacing": 3,
  "spec": {
   "width": 87, "height": 136,
   "encoding": {"x": {"field": "d", "type": "nominal", "title": null, "scale": {"domain": ["baseline", "day 1-5", "day 6-10", "day 11-15", "day 16-20", "day 21-25", "day 26-30"], "paddingInner": 0.13, "paddingOuter": 0.35}}},
   "layer": [
    {"transform": [{"filter": "isValid(datum.m)"}], "mark": {"type": "bar", "fill": "#ffffff", "strokeWidth": 1.3},
     "encoding": {"y": {"field": "m", "type": "quantitative", "scale": {"domain": [0, 20], "nice": false}, "title": "Water intake (ml/Kg)"},
      "stroke": {"field": "g", "type": "nominal", "scale": {"domain": ["SALINE", "EARLY NICOTINE", "LATE NICOTINE"], "range": ["#000000", "#ff0000", "#0000ff"]}, "legend": null}}},
    {"transform": [{"filter": "isValid(datum.v)"}, {"window": [{"op": "row_number", "as": "r"}], "groupby": ["g", "d"], "sort": [{"field": "v", "order": "descending"}]}, {"calculate": "datum.r % 3", "as": "j"}],
     "mark": {"type": "point", "shape": "circle", "filled": true, "size": 13, "strokeWidth": 0.8, "opacity": 1},
     "encoding": {"xOffset": {"field": "j", "type": "ordinal", "scale": {"domain": [2, 1, 0]}},
      "y": {"field": "v", "type": "quantitative", "title": "Water intake (ml/Kg)"},
      "fill": {"field": "g", "type": "nominal", "scale": {"domain": ["SALINE", "EARLY NICOTINE", "LATE NICOTINE"], "range": ["#ffffff", "#ff0000", "#0000ff"]}, "legend": null},
      "stroke": {"field": "g", "type": "nominal", "legend": null}}},
    {"transform": [{"filter": "isValid(datum.m)"}], "mark": {"type": "errorbar", "ticks": {"size": 5}, "thickness": 1},
     "encoding": {"y": {"field": "m", "type": "quantitative", "title": "Water intake (ml/Kg)"}, "yError": {"field": "s"},
      "color": {"field": "g", "type": "nominal", "scale": {"domain": ["SALINE", "EARLY NICOTINE", "LATE NICOTINE"], "range": ["#000000", "#ff0000", "#0000ff"]}, "legend": null}}},
    {"transform": [{"filter": "datum.st"}], "mark": {"type": "text", "fontSize": 8, "fontWeight": "bold", "baseline": "middle", "dy": 2, "color": "#222222"},
     "encoding": {"y": {"field": "sy", "type": "quantitative", "title": "Water intake (ml/Kg)"}, "text": {"field": "st"}}}
   ]
  }
 }
 ]
}
]
}
